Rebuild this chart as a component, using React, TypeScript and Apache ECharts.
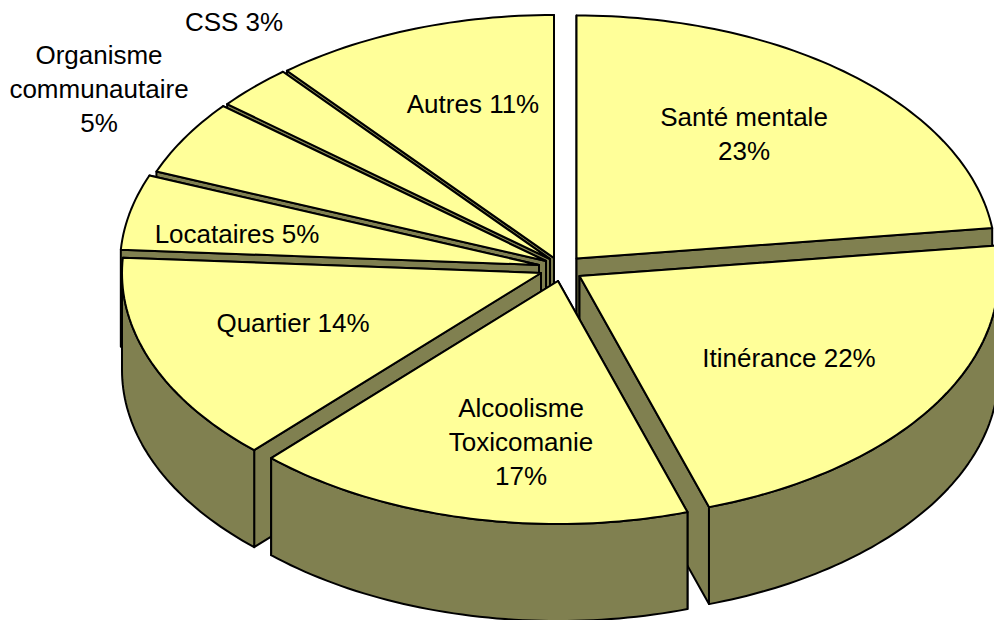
import React, { useEffect, useRef } from "react";
import * as echarts from "echarts";

const categories = ["Santé mentale", "Itinérance", "Alcoolisme\nToxicomanie", "Quartier", "Locataires", "Organisme\ncommunautaire", "CSS", "Autres"];
const shares = [23, 22, 17, 14, 5, 5, 3, 11];
// Each label is broken onto lines as in the source chart.
const labelBreakBeforeShare = [true, false, true, false, false, true, false, false];

// Layout
const apexX = [576.5, 579.5, 558, 541, 539, 546, 550, 554];
const apexY = [258.5, 276, 281, 273, 265, 261, 259, 258];
const labelX = [744, 789, 521, 293, 237, 99, 234, 473];
const labelY = [134, 358, 442, 323, 234, 89, 22, 104];
const paintOrder = [0, 7, 6, 5, 4, 3, 1, 2];
const RX = 419;
const RY = 243;
const DEPTH = 97;
const TOP_COLOR = "#FFFF99";
const WALL_COLOR = "#808050";

function App() {
  const ref = useRef<HTMLDivElement>(null);
  useEffect(() => {
    document.body.style.margin = "0";
    const chart = echarts.init(ref.current!, null, { renderer: "svg" });
    const total = shares.reduce((a, b) => a + b, 0);
    const starts: number[] = [];
    shares.reduce((acc, v, i) => {
      starts[i] = acc;
      return acc + v;
    }, 0);
    const poly = (points: number[][], fill: string) => ({
      type: "polygon",
      shape: { points },
      style: { fill, stroke: "#000", lineWidth: 2, lineJoin: "round" },
      silent: true,
    });
    chart.setOption({
      animation: false,
      backgroundColor: "#fff",
      series: [
        {
          type: "custom",
          coordinateSystem: "none",
          silent: true,
          data: paintOrder.map((i) => [shares[i], i]),
          renderItem: (_p: any, api: any) => {
            const value = api.value(0);
            const i = api.value(1);
            const cx = apexX[i];
            const cy = apexY[i];
            const a0 = (starts[i] / total) * Math.PI * 2;
            const a1 = a0 + (value / total) * Math.PI * 2;
            const steps = Math.max(8, Math.ceil(value * 3));
            const sample = (from: number, to: number) => {
              const pts: number[][] = [];
              for (let k = 0; k <= steps; k++) {
                const a = from + ((to - from) * k) / steps;
                pts.push([cx + RX * Math.sin(a), cy - RY * Math.cos(a)]);
              }
              return pts;
            };
            const low = (p: number[]) => [p[0], p[1] + DEPTH];
            const arc = sample(a0, a1);
            const apex = [cx, cy];
            const first = arc[0];
            const last = arc[arc.length - 1];
            const startWall = poly([apex, first, low(first), low(apex)], WALL_COLOR);
            const endWall = poly([apex, last, low(last), low(apex)], WALL_COLOR);
            // The wall that faces the viewer goes on top of the hidden one.
            const children: any[] =
              (a0 + a1) / 2 > Math.PI ? [endWall, startWall] : [startWall, endWall];
            // Only the front half of the rim is ever seen.
            const lo = Math.max(a0, Math.PI / 2);
            const hi = Math.min(a1, (Math.PI * 3) / 2);
            if (hi > lo) {
              const rim = sample(lo, hi);
              children.push(poly([...rim, ...rim.slice().reverse().map(low)], WALL_COLOR));
            }
            children.push(poly([apex, ...arc], TOP_COLOR));
            return { type: "group", children };
          },
        },
        {
          type: "custom",
          coordinateSystem: "none",
          silent: true,
          data: shares.map((v, i) => [v, i]),
          renderItem: (_p: any, api: any) => {
            const i = api.value(1);
            const sep = labelBreakBeforeShare[i] ? "\n" : " ";
            return {
              type: "text",
              x: labelX[i],
              y: labelY[i],
              silent: true,
              style: {
                text: `${categories[i]}${sep}${api.value(0)}%`,
                fill: "#000",
                font: '26px "Liberation Sans", Arial, sans-serif',
                lineHeight: 34,
                align: "center",
                verticalAlign: "middle",
              },
            };
          },
        },
      ],
    });
    return () => chart.dispose();
  }, []);
  return <div ref={ref} style={{ width: 994, height: 620, overflow: "hidden" }} />;
}

export default App;
